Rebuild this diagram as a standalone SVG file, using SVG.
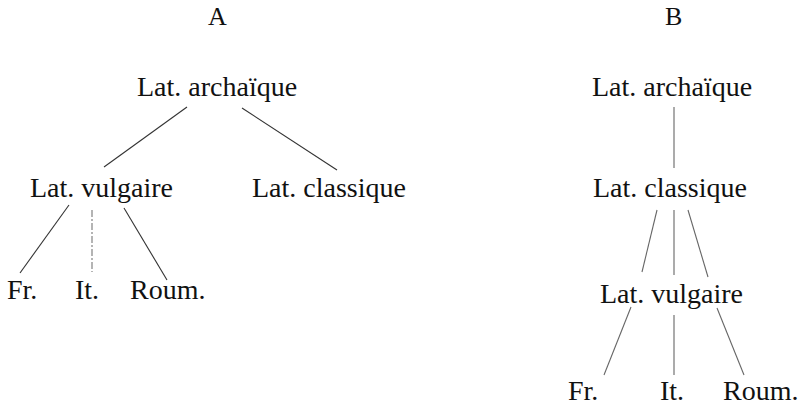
<svg xmlns="http://www.w3.org/2000/svg" width="798" height="407" viewBox="0 0 798 407">
<style>
text{font-family:"Liberation Serif","Times New Roman",serif;font-size:28px;fill:#111}
.h{font-size:26px}
.c line{stroke:#333;stroke-width:1.1;fill:none}
.c line.d{stroke:#777;stroke-dasharray:7 2 2 2}
.c line.l{stroke:#666}
</style>
<rect width="798" height="407" fill="#fff"/>
<g id="labelA"><text class="h" x="208" y="25">A</text></g>
<g id="labelB"><text class="h" x="665" y="25">B</text></g>
<g id="A-archaique"><text x="137" y="96">Lat. archaïque</text></g>
<g id="A-vulgaire"><text x="30" y="197">Lat. vulgaire</text></g>
<g id="A-classique"><text x="252" y="197">Lat. classique</text></g>
<g id="A-fr"><text x="7" y="299">Fr.</text></g>
<g id="A-it"><text x="75" y="299">It.</text></g>
<g id="A-roum"><text x="130" y="299">Roum.</text></g>
<g id="B-archaique"><text x="592" y="96">Lat. archaïque</text></g>
<g id="B-classique"><text x="593" y="197">Lat. classique</text></g>
<g id="B-vulgaire"><text x="600" y="303">Lat. vulgaire</text></g>
<g id="B-fr"><text x="568" y="400">Fr.</text></g>
<g id="B-it"><text x="660" y="400">It.</text></g>
<g id="B-roum"><text x="723" y="400">Roum.</text></g>
<g id="connectors" class="c">
<line x1="187" y1="107" x2="104" y2="167"/>
<line x1="242" y1="108" x2="337" y2="170"/>
<line x1="69" y1="205" x2="20" y2="273"/>
<line class="d" x1="92" y1="210" x2="92" y2="272"/>
<line x1="124" y1="208" x2="167" y2="280"/>
<line class="l" x1="674" y1="107" x2="674" y2="168"/>
<line class="l" x1="657" y1="210" x2="642" y2="272"/>
<line class="l" x1="674" y1="210" x2="674" y2="275"/>
<line class="l" x1="688" y1="210" x2="708" y2="277"/>
<line class="l" x1="631" y1="307" x2="604" y2="375"/>
<line class="l" x1="674" y1="315" x2="674" y2="375"/>
<line class="l" x1="717" y1="308" x2="744" y2="375"/>
</g>
</svg>
